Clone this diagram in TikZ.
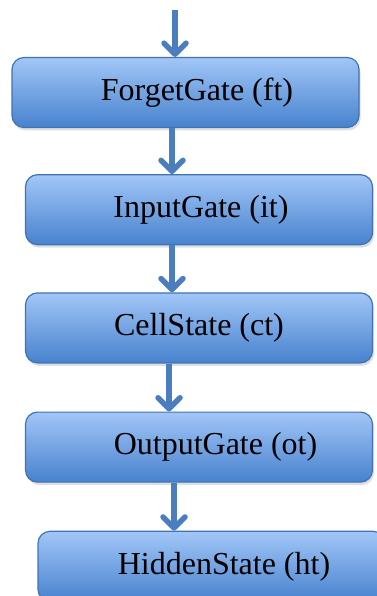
\documentclass[tikz,border=0pt]{standalone}
\usepackage{fontspec}
\setmainfont{Liberation Serif}
\usetikzlibrary{positioning,arrows.meta,shadows}
\definecolor{gatetop}{HTML}{A2C6F7}
\definecolor{gatebottom}{HTML}{4782CE}
\definecolor{gateline}{HTML}{3F73B3}
\definecolor{flowblue}{HTML}{4A7EBE}

\begin{document}
\begin{tikzpicture}[x=1pt,y=1pt,node distance=46pt,
   gate/.style={draw=gateline,line width=1.2pt,rounded corners=12pt,
     top color=gatetop,bottom color=gatebottom,
     minimum width=347pt,minimum height=70pt,
     drop shadow={opacity=0.25,shadow xshift=1.5pt,shadow yshift=-3pt},
     font=\fontsize{32}{38}\selectfont},
   flow/.style={draw=flowblue,line width=5.5pt,
     -{Straight Barb[round,length=11pt,width=22pt]}}]
  \useasboundingbox (0,0) rectangle (376,-596);
  \coordinate (in) at (175,-10);
  \node[gate] (fg) at (185.5,-92.5) {\hspace*{23pt}ForgetGate (ft)};
  \node[gate] (ig) [below=46pt of fg,xshift=13.5pt] {\hspace*{4pt}InputGate (it)};
  \node[gate] (cs) [below=47pt of ig] {CellState (ct)};
  \node[gate] (og) [below=48pt of cs] {\hspace*{33pt}OutputGate (ot)};
  \node[gate] (hs) [below=48pt of og,xshift=12.5pt] {\hspace*{25pt}HiddenState (ht)};
  \draw[flow] (in) -- (in |- fg.north);
  \draw[flow] ([xshift=-13.5pt]fg.south) -- ([xshift=-27pt]ig.north);
  \draw[flow] ([xshift=-27pt]ig.south) -- ([xshift=-27pt]cs.north);
  \draw[flow] ([xshift=-30pt]cs.south) -- ([xshift=-30pt]og.north);
  \draw[flow] ([xshift=-25pt]og.south) -- ([xshift=-37.5pt]hs.north);
\end{tikzpicture}
\end{document}
